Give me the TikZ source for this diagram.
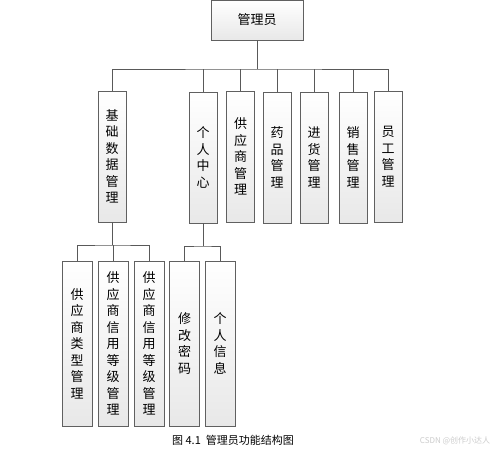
\documentclass[tikz,border=0pt]{standalone}
\usepackage{fontspec}
\setmainfont{Noto Sans CJK SC}
\usetikzlibrary{positioning}
\tikzset{
  box/.style={draw=gray!75!black, line width=0.7pt, top color=white, bottom color=gray!18,
    inner sep=0pt, align=center, font=\fontsize{13}{16.5}\selectfont},
  conn/.style={draw=gray!70!black, line width=0.6pt}
}
\begin{document}
\begin{tikzpicture}[x=1pt,y=-1pt]
\useasboundingbox[fill=white] (0,0) rectangle (500,450);
% top
\node[box, minimum width=92pt, minimum height=40pt] (root) at (257,20) {管理员};
% second row
\newcommand{\secbox}[4]{\node[box, minimum width=28pt, minimum height=131pt] (#1) at (#2,#3) {#4};}
\secbox{jc}{112}{156.5}{基\\础\\数\\据\\管\\理}
\secbox{gr}{203}{157.5}{个\\人\\中\\心}
\secbox{gy}{240.5}{156.5}{供\\应\\商\\管\\理}
\secbox{yp}{277}{157.5}{药\\品\\管\\理}
\secbox{jh}{314}{157.5}{进\\货\\管\\理}
\secbox{xs}{353}{157.5}{销\\售\\管\\理}
\secbox{yg}{388}{156.5}{员\\工\\管\\理}
% third row
\newcommand{\thirdbox}[3]{\node[box, minimum width=30pt, minimum height=165pt] (#1) at (#2,343.5) {#3};}
\thirdbox{lx}{77}{供\\应\\商\\类\\型\\管\\理}
\thirdbox{xy1}{113}{供\\应\\商\\信\\用\\等\\级\\管\\理}
\thirdbox{xy2}{149}{供\\应\\商\\信\\用\\等\\级\\管\\理}
\thirdbox{mm}{184.5}{修\\改\\密\\码}
\thirdbox{xx}{220}{个\\人\\信\\息}
% connectors
\coordinate (bus) at (257,69);
\draw[conn] (root.south) -- (bus);
\draw[conn] (jc.north) |- (bus) -| (yg.north);
\foreach \n in {gr,gy,yp,jh,xs}{\draw[conn] (\n.north) -- (\n.north |- bus);}
\coordinate (bus2) at (112,245);
\draw[conn] (jc.south) -- (bus2);
\draw[conn] (lx.north) |- (bus2) -| (xy2.north);
\draw[conn] (xy1.north) -- (xy1.north |- bus2);
\coordinate (bus3) at (203,246);
\draw[conn] (gr.south) -- (bus3);
\draw[conn] (mm.north) |- (bus3) -| (xx.north);
% caption
\node[font=\fontsize{11}{13}\selectfont] (cap) at (233,440) {图 4.1\ \ 管理员功能结构图};
\node[font=\fontsize{8}{10}\selectfont, text=gray!40] (wm) at (455,441) {CSDN @创作小达人};
\end{tikzpicture}
\end{document}
